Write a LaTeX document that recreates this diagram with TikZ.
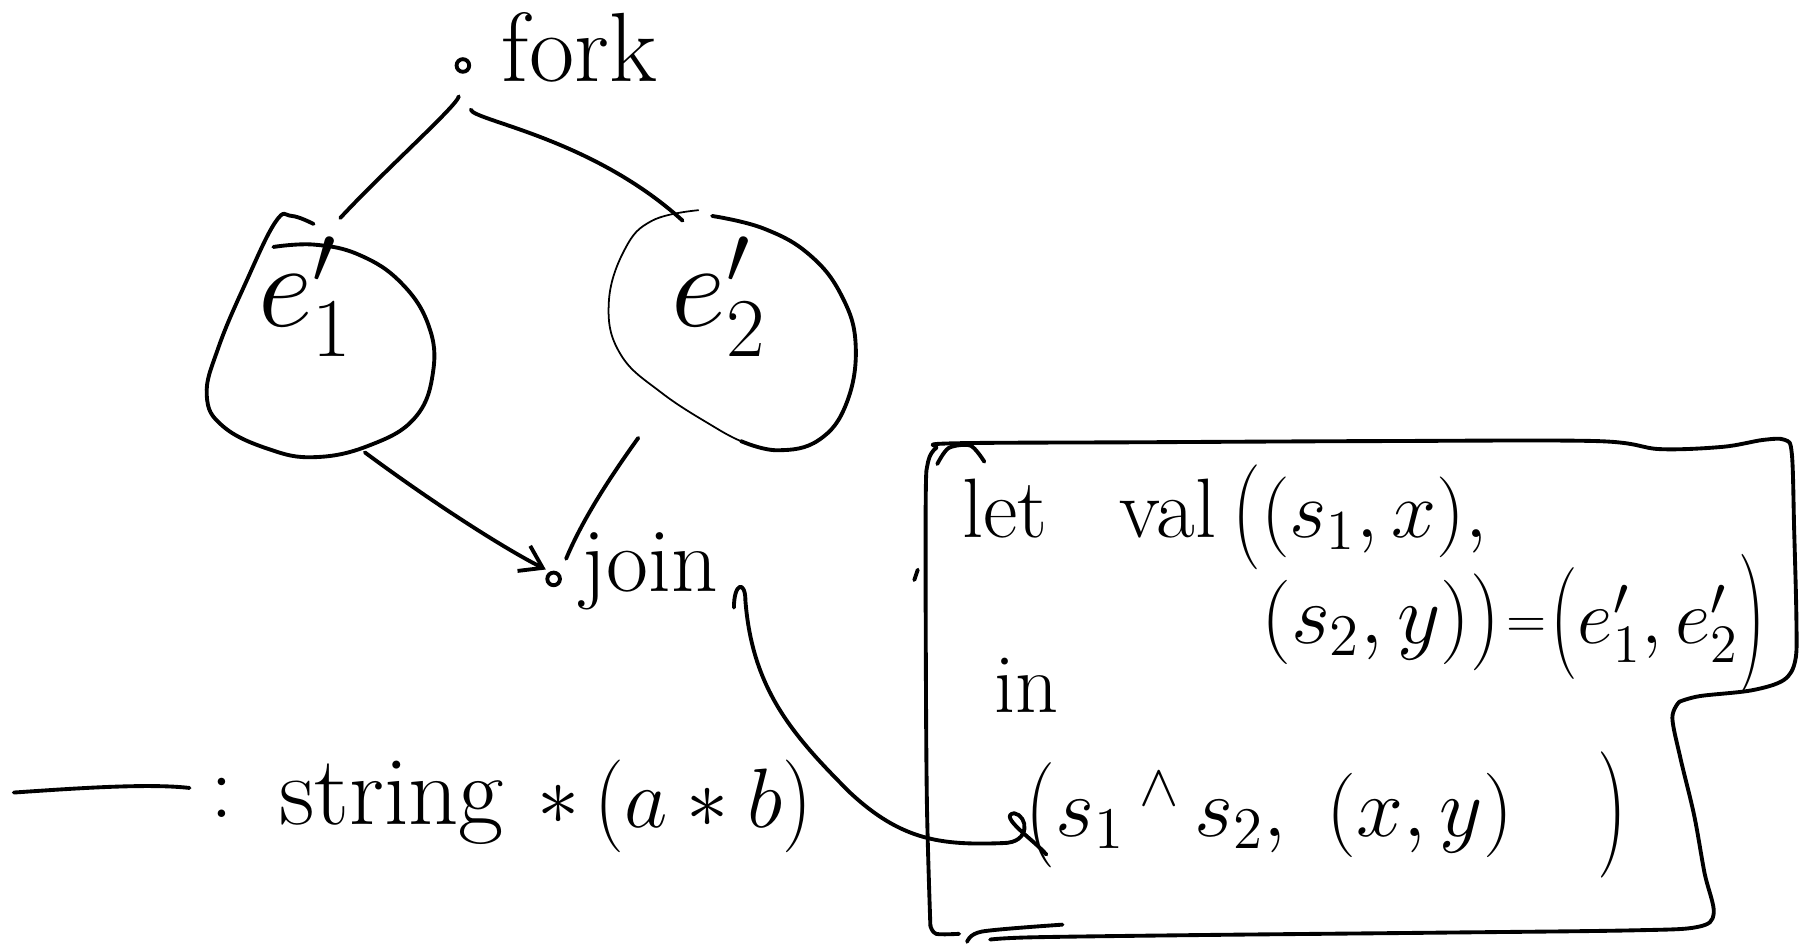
\documentclass[tikz,border=0pt]{standalone}
\usepackage{fix-cm}
\usepackage{graphicx}
\usetikzlibrary{shapes.geometric, arrows.meta, calc}
\newcommand\pxu{0.011486cm}
\newcommand\fsz[1]{\fontsize{#1}{#1}\selectfont}
% stretched parentheses: #1 = vertical factor, #2 = drop in em to keep them centred
\newcommand\Lp[2]{\mathopen{\raisebox{-#2em}{\scalebox{1}[#1]{(}}}}
\newcommand\Rp[2]{\mathclose{\raisebox{-#2em}{\scalebox{1}[#1]{)}}}}

\begin{document}
\begin{tikzpicture}[x=0.011486cm, y=-0.011486cm,
  pen/.style={line width=1.1pt, line cap=round, line join=round},
  thin pen/.style={line width=0.5pt, line cap=round, line join=round},
  hand/.style={inner sep=0pt, outer sep=0pt, anchor=base west},
  dotnode/.style={circle, draw, line width=1.1pt, inner sep=0pt, minimum size=11*\pxu},
  blobnode/.style={ellipse, inner sep=0pt, outer sep=0pt},
  tip/.style={-{Straight Barb[length=6pt, width=8pt]}}]

\useasboundingbox (0,0) rectangle (1568,823);

% ---- fork ----
\node[dotnode] (forkdot) at (403,57) {};
\node[hand, font=\fsz{28}] (fork) at (437,71) {fork};

% ---- the two sub-expressions ----
\node[blobnode, minimum width=197*\pxu, minimum height=210*\pxu] (e1) at (278,293) {};
\node[font=\fsz{34}, inner sep=0pt] (e1txt) at (266,258) {$e_1'$};
\node[blobnode, minimum width=215*\pxu, minimum height=209*\pxu] (e2) at (637,288) {};
\node[font=\fsz{34}, inner sep=0pt] (e2txt) at (626,258) {$e_2'$};

\draw[pen] plot[smooth, tension=0.7] coordinates {(273,195) (254,188) (240,193) (214,246)
  (190,303) (180,344) (194,371) (234,391) (274,398) (321,388) (361,364) (377,324)
  (373,283) (349,246) (313,222) (274,213) (238,215)};
\draw[pen] plot[smooth, tension=0.7] coordinates {(620,188) (665,199) (705,222) (733,258)
  (745,301) (737,351) (713,383) (677,392) (645,384)};
\draw[thin pen] plot[smooth, tension=0.7] coordinates {(645,384) (624,373) (576,342)
  (540,308) (530,264) (544,217) (568,192) (608,183)};

% ---- join ----
\node[dotnode] (joindot) at (482,504) {};
\node[hand, font=\fsz{26}] (join) at (506,515) {join};

% ---- connectors ----
\draw[pen, shorten <=20*\pxu] (forkdot.south) .. controls (398,92) and (335,148) .. (e1.80);
\draw[pen, shorten <=32*\pxu] (forkdot.south) .. controls (412,105) and (515,120) .. (e2.114);
\draw[pen, tip, shorten <=5*\pxu, shorten >=4*\pxu] (e1.290) .. controls (380,440) and (440,478) .. (joindot.117);
\draw[pen, shorten <=18*\pxu, shorten >=14*\pxu] (e2.228) .. controls (535,410) and (508,450) .. (joindot.40);

% ---- the code box ----
\node[hand, font=\fsz{24}] (l1a) at (838,468) {let};
\node[hand, font=\fsz{24}] (l1b) at (975,468) {val};
\node[hand, font=\fsz{23}] (l1c) at (1073,468) {$\Lp{1.3}{0.07}(s_1, x),$};
\node[hand, font=\fsz{24}] (l2a) at (1098,560) {$(s_2, y)\Rp{1.15}{0.04}$};
\node[hand, font=\fsz{15}] (l2b) at (1312,555) {$=$};
\node[hand, font=\fsz{22}] (l2c) at (1350,560) {$\Lp{1.45}{0.11}e_1', e_2'\Rp{1.8}{0.2}$};
\node[hand, font=\fsz{24}] (l3) at (866,620) {in};
\node[hand, font=\fsz{24}] (l4) at (893,728) {$\Lp{1.25}{0.06}s_1\,{}^{\wedge}\,s_2,\ (x, y)\quad\Rp{1.5}{0.12}$};

\draw[pen] plot[smooth, tension=0.55] coordinates {(810,806) (807,700) (806,560) (806,430)
  (808,402) (815,390) (828,386) (1000,385) (1200,384) (1390,384) (1445,391) (1500,389)
  (1535,383) (1554,383) (1560,395) (1562,460) (1564,540) (1563,575) (1553,592)
  (1525,601) (1480,606) (1462,611)};
\draw[pen] plot[smooth, tension=0.55] coordinates {(1462,611) (1456,625) (1463,660)
  (1475,710) (1484,760) (1492,795) (1478,807) (1420,810) (1250,812) (1050,814)
  (900,816) (862,818)};
\draw[pen] plot[smooth] coordinates {(810,806) (815,813) (835,813)};
\draw[pen] plot[smooth] coordinates {(842,820) (855,811) (925,805)};
\draw[pen] plot[smooth] coordinates {(816,404) (826,390) (845,388) (857,402)};
\draw[pen] (799,496) -- (796,505);

% join feeds the result expression
\draw[pen] ($(join.base east)+(14,14)$) .. controls +(0,-22) and +(0,-18) ..
  ($(join.base east)+(24,8)$) .. controls (655,600) and (690,640) .. (740,690)
  .. controls (785,732) and (820,736) .. ($(l4.base west)+(-20,6)$)
  .. controls +(25,0) and +(12,2) .. ($(l4.base west)+(-10,-20)$)
  .. controls +(-15,2) and +(-10,-12) .. ($(l4.base west)+(18,16)$);

% ---- legend ----
\coordinate (legA) at (12,690);
\coordinate (legB) at (165,686);
\draw[pen] (legA) .. controls (70,686) and (130,682) .. (legB);
\node[hand, font=\fsz{26}] (legcolon) at (183,712) {:};
\node[hand, font=\fsz{28}] (legstr) at (243,718) {string};
\node[hand, font=\fsz{24}] (legstar) at (468,718) {$*$};
\node[hand, font=\fsz{24}] (legab) at (518,720) {$\Lp{1.1}{0.03}a * b\Rp{1.1}{0.03}$};

\end{tikzpicture}
\end{document}
